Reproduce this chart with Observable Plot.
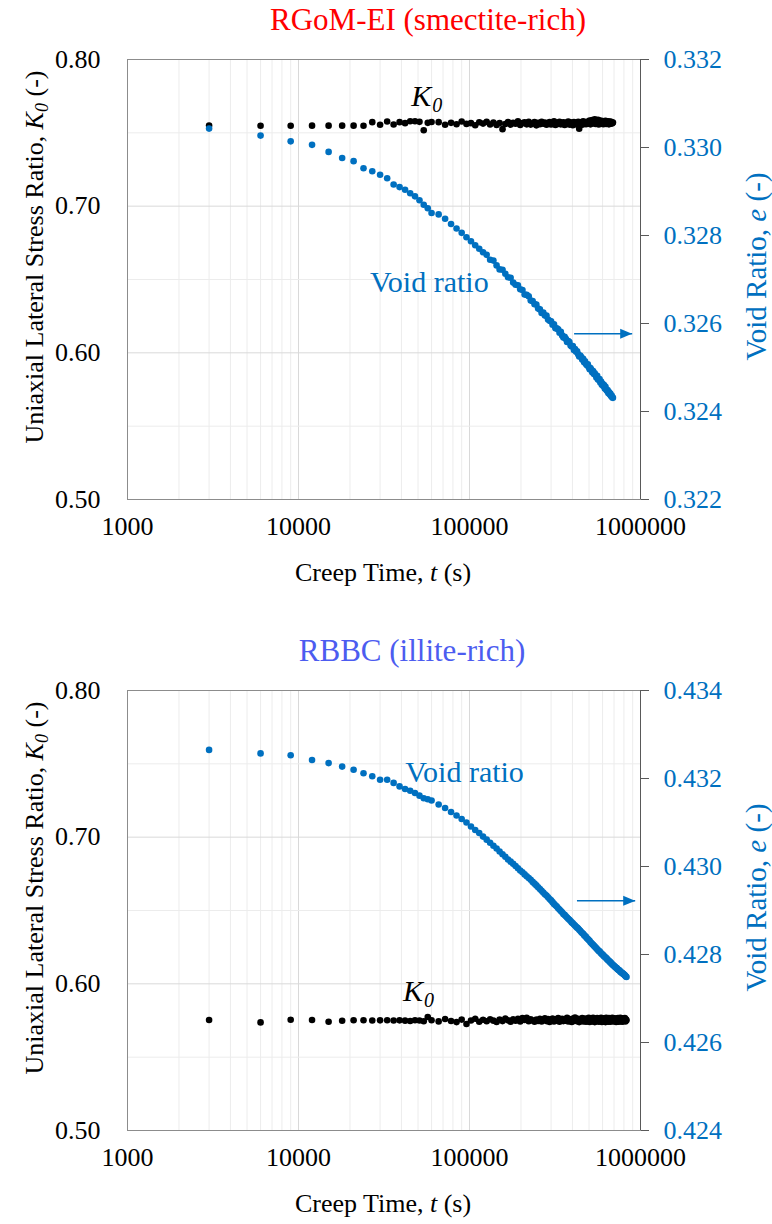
<!DOCTYPE html>
<html><head><meta charset="utf-8">
<script src="https://cdn.jsdelivr.net/npm/d3@7"></script>
<script src="https://cdn.jsdelivr.net/npm/@observablehq/plot@0.6"></script>
<style>
body{margin:0;background:#fff;}
#wrap{position:relative;width:772px;height:1224px;overflow:hidden;font-family:"Liberation Serif","Times New Roman",serif;}
#wrap svg, #wrap svg text, #wrap svg tspan{font-family:"Liberation Serif","Times New Roman",serif !important;}
.ttl{position:absolute;height:40px;line-height:40px;font-size:31px;white-space:nowrap;transform:translateX(-50%);}
.panel{position:absolute;left:0;}
</style></head><body>
<div id="wrap">
<div class="ttl" style="top:0;left:428px;color:#ff0000">RGoM-EI (smectite-rich)</div>
<div class="panel" id="p1" style="top:40px"></div>
<div class="ttl" style="top:631px;left:412px;color:#4c5cf0">RBBC (illite-rich)</div>
<div class="panel" id="p2" style="top:671px"></div>
</div>
<script>
// ---------- axis tick values ----------
const majorTimeTicks = [1000, 10000, 100000, 1000000];
const minorTimeTicks = [2000,3000,4000,5000,6000,7000,8000,9000,
  20000,30000,40000,50000,60000,70000,80000,90000,
  200000,300000,400000,500000,600000,700000,800000,900000];
const majorKTicks = [0.5, 0.6, 0.7, 0.8];
const minorKTicks = [0.55, 0.65, 0.75];
const voidTicksTop = [0.322, 0.324, 0.326, 0.328, 0.330, 0.332];
const voidTicksBottom = [0.424, 0.426, 0.428, 0.430, 0.432, 0.434];

// ---------- RGoM-EI (smectite-rich) ----------
const timeTop = [
3000,6000,9000,12000,15000,18000,21000,24000,27000,30000,
33000,36000,39000,42000,45000,48000,51000,54000,57000,60000,
66000,72000,78000,84000,90000,96000,102000,108000,114000,120000,
126000,132000,138000,144000,150000,156000,162000,168000,174000,180000,
186000,192000,198000,204000,210000,216000,222000,228000,234000,240000,
246000,252000,258000,264000,270000,276000,282000,288000,294000,300000,
306000,312000,318000,324000,330000,336000,342000,348000,354000,360000,
366000,372000,378000,384000,390000,396000,402000,408000,414000,420000,
426000,432000,438000,444000,450000,456000,462000,468000,474000,480000,
486000,492000,498000,504000,510000,516000,522000,528000,534000,540000,
546000,552000,558000,564000,570000,576000,582000,588000,594000,600000,
606000,612000,618000,624000,630000,636000,642000,648000,654000,660000,
666000,672000,678000,684000,690000];
const k0Top = [
0.7550,0.7548,0.7548,0.7549,0.7549,0.7549,0.7549,0.7548,0.7573,0.7555,
0.7577,0.7557,0.7573,0.7566,0.7579,0.7579,0.7575,0.7518,0.7568,0.7574,
0.7573,0.7555,0.7568,0.7559,0.7577,0.7561,0.7566,0.7552,0.7572,0.7563,
0.7575,0.7557,0.7570,0.7554,0.7567,0.7525,0.7560,0.7574,0.7556,0.7569,
0.7562,0.7578,0.7553,0.7566,0.7571,0.7558,0.7575,0.7556,0.7564,0.7573,
0.7551,0.7568,0.7559,0.7576,0.7562,0.7570,0.7555,0.7567,0.7574,0.7557,
0.7565,0.7578,0.7553,0.7569,0.7560,0.7575,0.7558,0.7566,0.7572,0.7554,
0.7568,0.7561,0.7577,0.7556,0.7571,0.7563,0.7552,0.7574,0.7560,0.7569,
0.7557,0.7575,0.7528,0.7566,0.7572,0.7555,0.7578,0.7562,0.7569,0.7559,
0.7576,0.7563,0.7570,0.7584,0.7558,0.7573,0.7588,0.7565,0.7577,0.7592,
0.7561,0.7579,0.7568,0.7589,0.7557,0.7575,0.7584,0.7563,0.7572,0.7580,
0.7559,0.7576,0.7566,0.7582,0.7561,0.7573,0.7568,0.7579,0.7558,0.7571,
0.7577,0.7562,0.7574,0.7566,0.7570];
const voidTop = [
0.33043,0.33027,0.33014,0.33006,0.32990,0.32976,0.32969,0.32953,0.32946,0.32938,
0.32930,0.32916,0.32910,0.32904,0.32896,0.32889,0.32880,0.32870,0.32862,0.32851,
0.32848,0.32838,0.32826,0.32816,0.32806,0.32796,0.32787,0.32778,0.32770,0.32762,
0.32756,0.32745,0.32743,0.32732,0.32723,0.32722,0.32713,0.32705,0.32704,0.32693,
0.32688,0.32687,0.32678,0.32676,0.32666,0.32665,0.32662,0.32652,0.32651,0.32644,
0.32643,0.32634,0.32632,0.32624,0.32625,0.32618,0.32618,0.32609,0.32606,0.32605,
0.32597,0.32598,0.32589,0.32589,0.32587,0.32579,0.32581,0.32573,0.32568,0.32570,
0.32565,0.32558,0.32560,0.32558,0.32550,0.32548,0.32549,0.32540,0.32542,0.32536,
0.32537,0.32530,0.32525,0.32527,0.32524,0.32518,0.32520,0.32512,0.32514,0.32508,
0.32505,0.32507,0.32501,0.32496,0.32499,0.32495,0.32489,0.32492,0.32485,0.32487,
0.32483,0.32477,0.32481,0.32473,0.32472,0.32474,0.32466,0.32468,0.32461,0.32463,
0.32458,0.32460,0.32452,0.32456,0.32450,0.32447,0.32449,0.32442,0.32444,0.32439,
0.32441,0.32435,0.32436,0.32432,0.32431];

// ---------- RBBC (illite-rich) ----------
const timeBottom = [
3000,6000,9000,12000,15000,18000,21000,24000,27000,30000,
33000,36000,39000,42000,45000,48000,51000,54000,57000,60000,
66000,72000,78000,84000,90000,96000,102000,108000,114000,120000,
126000,132000,138000,144000,150000,156000,162000,168000,174000,180000,
186000,192000,198000,204000,210000,216000,222000,228000,234000,240000,
246000,252000,258000,264000,270000,276000,282000,288000,294000,300000,
306000,312000,318000,324000,330000,336000,342000,348000,354000,360000,
366000,372000,378000,384000,390000,396000,402000,408000,414000,420000,
426000,432000,438000,444000,450000,456000,462000,468000,474000,480000,
486000,492000,498000,504000,510000,516000,522000,528000,534000,540000,
546000,552000,558000,564000,570000,576000,582000,588000,594000,600000,
606000,612000,618000,624000,630000,636000,642000,648000,654000,660000,
666000,672000,678000,684000,690000,696000,702000,708000,714000,720000,
726000,732000,738000,744000,750000,756000,762000,768000,774000,780000,
786000,792000,798000,804000,810000,816000,822000,828000];
const k0Bottom = [
0.5753,0.5737,0.5755,0.5753,0.5741,0.5748,0.5752,0.5752,0.5750,0.5751,
0.5752,0.5750,0.5751,0.5749,0.5747,0.5752,0.5750,0.5745,0.5774,0.5752,
0.5744,0.5760,0.5747,0.5739,0.5756,0.5726,0.5750,0.5762,0.5741,0.5755,
0.5745,0.5759,0.5749,0.5740,0.5757,0.5746,0.5763,0.5751,0.5742,0.5758,
0.5748,0.5761,0.5744,0.5766,0.5753,0.5769,0.5745,0.5759,0.5750,0.5741,
0.5757,0.5747,0.5762,0.5743,0.5756,0.5765,0.5746,0.5760,0.5740,0.5754,
0.5763,0.5744,0.5758,0.5748,0.5766,0.5742,0.5755,0.5761,0.5746,0.5759,
0.5749,0.5768,0.5743,0.5760,0.5751,0.5740,0.5763,0.5747,0.5770,0.5755,
0.5745,0.5762,0.5739,0.5758,0.5748,0.5766,0.5743,0.5757,0.5764,0.5741,
0.5760,0.5747,0.5768,0.5740,0.5757,0.5763,0.5744,0.5769,0.5749,0.5739,
0.5761,0.5746,0.5767,0.5751,0.5741,0.5764,0.5748,0.5769,0.5740,0.5758,
0.5765,0.5744,0.5760,0.5739,0.5768,0.5749,0.5762,0.5742,0.5766,0.5753,
0.5741,0.5763,0.5747,0.5769,0.5751,0.5743,0.5765,0.5748,0.5760,0.5740,
0.5764,0.5749,0.5767,0.5742,0.5758,0.5745,0.5768,0.5750,0.5762,0.5741,
0.5765,0.5746,0.5760,0.5749,0.5767,0.5744,0.5758,0.5752];
const voidBottom = [
0.43265,0.43257,0.43253,0.43242,0.43235,0.43227,0.43220,0.43212,0.43205,0.43197,
0.43197,0.43190,0.43182,0.43176,0.43172,0.43167,0.43161,0.43155,0.43153,0.43150,
0.43141,0.43133,0.43124,0.43116,0.43108,0.43100,0.43091,0.43083,0.43076,0.43068,
0.43061,0.43054,0.43047,0.43041,0.43034,0.43028,0.43022,0.43016,0.43011,0.43006,
0.43001,0.42996,0.42991,0.42987,0.42982,0.42978,0.42974,0.42970,0.42965,0.42961,
0.42957,0.42953,0.42949,0.42945,0.42941,0.42937,0.42934,0.42930,0.42926,0.42923,
0.42919,0.42915,0.42912,0.42909,0.42905,0.42902,0.42899,0.42896,0.42892,0.42890,
0.42887,0.42884,0.42881,0.42879,0.42876,0.42873,0.42871,0.42868,0.42866,0.42863,
0.42861,0.42859,0.42856,0.42854,0.42851,0.42849,0.42847,0.42844,0.42842,0.42840,
0.42837,0.42835,0.42833,0.42831,0.42828,0.42826,0.42824,0.42822,0.42820,0.42818,
0.42816,0.42814,0.42812,0.42810,0.42808,0.42807,0.42805,0.42803,0.42801,0.42800,
0.42798,0.42796,0.42795,0.42793,0.42792,0.42790,0.42788,0.42787,0.42785,0.42784,
0.42782,0.42781,0.42779,0.42778,0.42776,0.42775,0.42774,0.42772,0.42771,0.42770,
0.42769,0.42767,0.42766,0.42765,0.42764,0.42763,0.42761,0.42760,0.42759,0.42758,
0.42757,0.42756,0.42755,0.42754,0.42753,0.42751,0.42750,0.42749];

// ---------- annotations (data units: t in s, K0-axis units) ----------
const voidLabelTop = [{t: 26200, k: 0.6413, text: "Void ratio"}];
const k0LabelTop = [{t: 45600, k: 0.768}];
const arrowTop = [{t1: 409000, t2: 894000, k: 0.613}];
const voidLabelBottom = [{t: 42100, k: 0.7373, text: "Void ratio"}];
const k0LabelBottom = [{t: 40900, k: 0.5884}];
const arrowBottom = [{t1: 425000, t2: 931000, k: 0.6566}];

const FONT = '"Liberation Serif", "Times New Roman", serif';
const BLUE = "#0070C0";

function panel({id, times, k0, voids, voidTicks, voidLabel, k0Label, arrow, height}) {
  const eLo = voidTicks[0], eHi = voidTicks[voidTicks.length - 1];
  const eToK = e => 0.5 + (e - eLo) / (eHi - eLo) * 0.3;
  const kToE = k => eLo + (k - 0.5) / 0.3 * (eHi - eLo);
  const n = Math.min(times.length, k0.length, voids.length);
  if (n !== times.length || n !== k0.length || n !== voids.length) console.error("length mismatch", id, times.length, k0.length, voids.length);
  const rows = times.slice(0, n).map((t, i) => ({t, k: k0[i], e: voids[i]}));
  const svg = Plot.plot({
    width: 772, height,
    marginTop: 19, marginLeft: 127, marginRight: 132, marginBottom: height - 19 - 440,
    style: {fontFamily: FONT, background: "transparent", color: "#000"},
    x: {type: "log", domain: [1000, 1000000]},
    y: {domain: [0.5, 0.8]},
    marks: [
      Plot.gridX(minorTimeTicks, {stroke: "#ececec", strokeOpacity: 1}),
      Plot.gridX(majorTimeTicks, {stroke: "#d9d9d9", strokeOpacity: 1}),
      Plot.gridY(minorKTicks, {stroke: "#ececec", strokeOpacity: 1}),
      Plot.gridY(majorKTicks, {stroke: "#d9d9d9", strokeOpacity: 1}),
      Plot.frame({stroke: "#8c8c8c"}),
      Plot.ruleX([1000000], {stroke: "#595959"}),
      Plot.axisX(majorTimeTicks, {tickSize: 0, tickPadding: 17, tickFormat: d => String(d), fontSize: 26, label: null}),
      Plot.axisY(majorKTicks, {anchor: "left", tickSize: 0, tickPadding: 27, tickFormat: d => d.toFixed(2), fontSize: 26, label: null}),
      Plot.axisY(voidTicks.map(eToK), {anchor: "right", tickSize: 8, tickPadding: 15,
        tickFormat: d => kToE(d).toFixed(3), fontSize: 26, stroke: "#595959", fill: BLUE, label: null}),
      Plot.dot(rows, {x: "t", y: "k", r: 3.3, fill: "#000"}),
      Plot.dot(rows, {x: "t", y: d => eToK(d.e), r: 3.3, fill: BLUE}),
      Plot.link(arrow, {x1: "t1", x2: "t2", y1: "k", y2: "k", stroke: BLUE, strokeWidth: 1.6}),
      Plot.text(voidLabel, {x: "t", y: "k", text: "text", textAnchor: "start", lineAnchor: "bottom", fontSize: 30, fill: BLUE}),
      Plot.text(k0Label, {x: "t", y: "k", text: () => "K", textAnchor: "start", lineAnchor: "bottom", fontSize: 30, fontStyle: "italic", fill: "#000"}),
      Plot.text(k0Label, {x: "t", y: "k", text: () => "0", textAnchor: "start", lineAnchor: "bottom", fontSize: 20, fontStyle: "italic", fill: "#000", dx: 21, dy: 6})
    ]
  });
  const s = d3.select(svg);
  const mid = "ah-" + id;
  s.append("defs").append("marker").attr("id", mid)
    .attr("viewBox", "0 0 10 10").attr("refX", 10).attr("refY", 5)
    .attr("markerWidth", 12).attr("markerHeight", 12)
    .attr("markerUnits", "userSpaceOnUse").attr("orient", "auto")
    .append("path").attr("d", "M0,0.8L10,5L0,9.2Z").attr("fill", BLUE);
  s.selectAll('g[aria-label="link"] path').attr("marker-end", `url(#${mid})`);

  // axis titles
  const xt = s.append("text").attr("x", 383).attr("y", 541).attr("text-anchor", "middle")
    .attr("font-size", 26).attr("font-family", FONT).attr("fill", "#000");
  xt.append("tspan").text("Creep Time, ");
  xt.append("tspan").attr("font-style", "italic").text("t");
  xt.append("tspan").text(" (s)");

  const lt = s.append("text").attr("transform", "translate(43,217) rotate(-90)").attr("text-anchor", "middle")
    .attr("font-size", 26).attr("font-family", FONT).attr("fill", "#000");
  lt.append("tspan").text("Uniaxial Lateral Stress Ratio, ");
  lt.append("tspan").attr("font-style", "italic").text("K");
  lt.append("tspan").attr("font-style", "italic").attr("font-size", 18).attr("dy", 5).text("0");
  lt.append("tspan").attr("dy", -5).text(" (-)");

  const rt = s.append("text").attr("transform", "translate(766,226.5) rotate(-90)").attr("text-anchor", "middle")
    .attr("font-size", 29).attr("font-family", FONT).attr("fill", BLUE);
  rt.append("tspan").text("Void Ratio, ");
  rt.append("tspan").attr("font-style", "italic").text("e");
  rt.append("tspan").text(" (-)");

  document.getElementById(id).appendChild(svg);
}

panel({id: "p1", times: timeTop, k0: k0Top, voids: voidTop, voidTicks: voidTicksTop,
  voidLabel: voidLabelTop, k0Label: k0LabelTop, arrow: arrowTop, height: 591});
panel({id: "p2", times: timeBottom, k0: k0Bottom, voids: voidBottom, voidTicks: voidTicksBottom,
  voidLabel: voidLabelBottom, k0Label: k0LabelBottom, arrow: arrowBottom, height: 553});
</script>
</body></html>
